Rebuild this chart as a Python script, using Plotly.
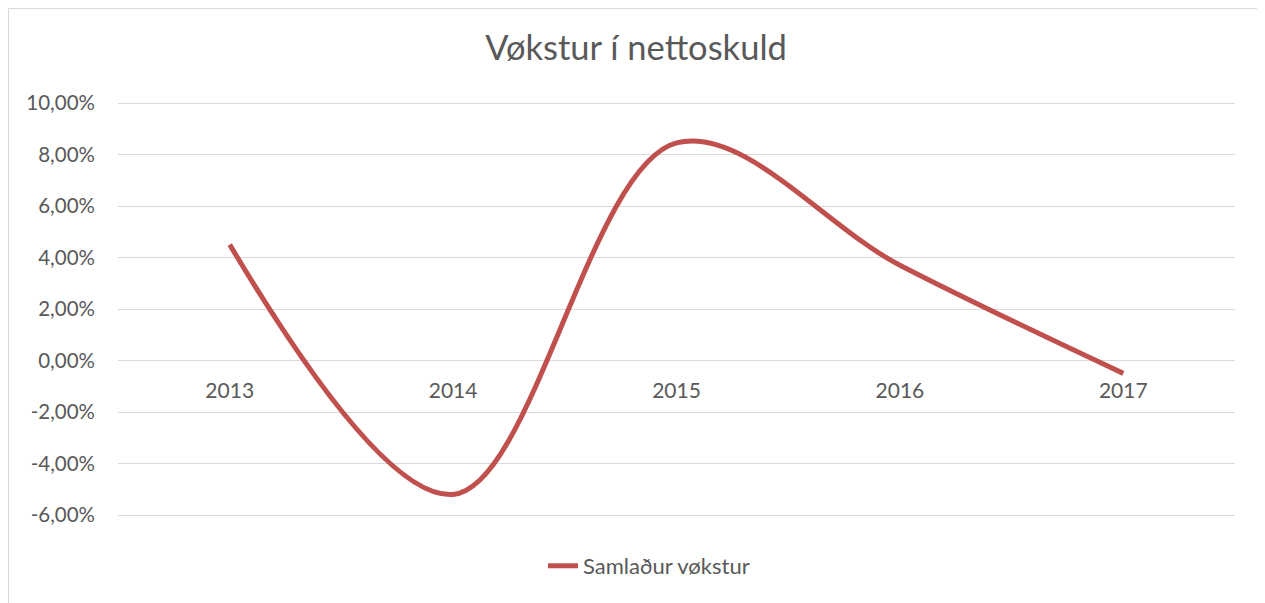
import plotly.graph_objects as go

years = ["2013", "2014", "2015", "2016", "2017"]
growth = [0.045, -0.052, 0.0845, 0.037, -0.005]
series_name = "Samlaður vøkstur"
title_text = "Vøkstur í nettoskuld"
y_ticks = [-0.06, -0.04, -0.02, 0.0, 0.02, 0.04, 0.06, 0.08, 0.10]
y_ticktext = [f"{v * 100:.2f}%".replace(".", ",") for v in y_ticks]

FONT = "Lato, Carlito, Calibri, sans-serif"
GREY = "#595959"

# figure geometry (page body adds an 8px offset)
W, H = 1257, 595
L, T, PW, PH = 110, 93, 1117, 416
d = 2 * 0.16 / 412  # small pad so edge gridlines are drawn
y_lo, y_hi = -0.06 - d, 0.10 + d


def px(fx):
    return (fx - L) / PW


def py(fy):
    return (T + PH - fy) / PH


fig = go.Figure()
fig.add_trace(go.Scatter(
    x=years, y=growth, name=series_name, mode="lines",
    line=dict(color="#C0504D", width=5, shape="spline", smoothing=1.0),
    showlegend=True,
))

fig.update_layout(
    width=W, height=H,
    margin=dict(l=L, r=W - L - PW, t=T, b=H - T - PH, pad=0),
    paper_bgcolor="white", plot_bgcolor="white",
    font=dict(family=FONT, color=GREY, size=20),
    title=dict(text=title_text, x=(628) / W, xref="container", xanchor="center",
               y=1 - 40 / H, yref="container", yanchor="middle",
               font=dict(family=FONT, size=34.5, color=GREY)),
    legend=dict(orientation="h", x=px(535), xanchor="left", y=py(558), yanchor="middle",
                font=dict(family=FONT, size=22, color=GREY), bgcolor="rgba(0,0,0,0)"),
    xaxis=dict(type="category", anchor="free", position=(0 - y_lo) / (y_hi - y_lo),
               showgrid=False, showline=False, zeroline=False, ticks="",
               ticklabelstandoff=15, range=[-0.5, 4.5],
               tickfont=dict(family=FONT, size=21, color=GREY)),
    yaxis=dict(range=[y_lo, y_hi], tickvals=y_ticks, ticktext=y_ticktext,
               showgrid=True, gridcolor="#D9D9D9", gridwidth=1, zeroline=False,
               showline=False, ticks="", ticklabelstandoff=22,
               tickfont=dict(family=FONT, size=20.5, color=GREY)),
    shapes=[dict(type="rect", xref="paper", yref="paper",
                 x0=px(0.5), x1=px(1250), y0=py(640), y1=py(0.5),
                 line=dict(color="#D9D9D9", width=1), fillcolor="rgba(0,0,0,0)",
                 layer="below")],
)

fig.write_html("out.html")
